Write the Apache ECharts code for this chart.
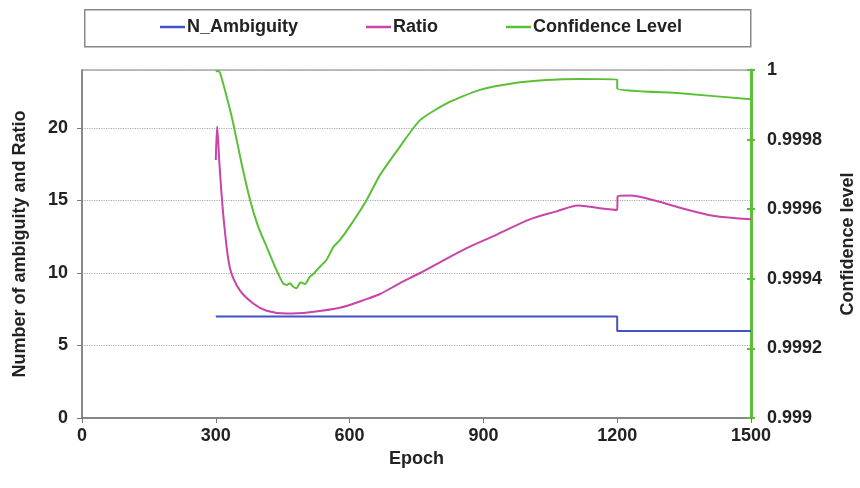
<!DOCTYPE html>
<html>
<head>
<meta charset="utf-8">
<script src="https://cdn.jsdelivr.net/npm/echarts@6/dist/echarts.min.js"></script>
<style>html,body{margin:0;padding:0;background:#fff}#c{width:860px;height:488px}</style>
</head>
<body>
<div id="c"></div>
<script>
const seriesNames = ['N_Ambiguity', 'Ratio', 'Confidence Level'];
const xTicks = [0, 300, 600, 900, 1200, 1500];

const ambEpochs = [300, 1200, 1200, 1500];
const ambValues = [7, 7, 6, 6];

const ratioEpochs = [300, 303, 308, 313, 320, 332, 354, 384, 414, 459, 511, 578, 638, 668, 713, 758, 855, 930, 1004, 1064, 1113, 1161, 1200, 1201, 1229, 1290, 1341, 1415, 1500];
const ratioValues = [17.8, 20.1, 17.6, 15.4, 13.0, 10.3, 8.8, 7.9, 7.4, 7.2, 7.3, 7.6, 8.2, 8.55, 9.3, 10.0, 11.6, 12.65, 13.7, 14.25, 14.66, 14.47, 14.35, 15.3, 15.35, 14.95, 14.5, 13.95, 13.7];

const confEpochs = [300, 305, 310, 325, 339, 358, 377, 395, 414, 436, 451, 459, 466, 473, 481, 490, 500, 511, 520, 530, 548, 564, 578, 600, 638, 668, 713, 758, 818, 892, 967, 1042, 1117, 1200, 1200, 1341, 1500];
const confValues = [0.999995, 0.999998, 0.99999, 0.99992, 0.999847, 0.99973, 0.999626, 0.99955, 0.999492, 0.999425, 0.999387, 0.999382, 0.999387, 0.999378, 0.999373, 0.99939, 0.999385, 0.999406, 0.999415, 0.99943, 0.999454, 0.999492, 0.999511, 0.99955, 0.999626, 0.999698, 0.99978, 0.999856, 0.999904, 0.999943, 0.999962, 0.999971, 0.999974, 0.999973, 0.999947, 0.999933, 0.999916];

const zip = (a, b) => a.map((x, i) => [x, b[i]]);
const FONT = "'Liberation Sans', Arial, sans-serif";
const labelStyle = { fontFamily: FONT, fontWeight: 'bold', fontSize: 18, color: '#222' };
const GREEN = '#5cbf38';

const chart = echarts.init(document.getElementById('c'), null, { renderer: 'canvas' });
chart.setOption({
  animation: false,
  backgroundColor: '#fff',
  graphic: [{
    type: 'rect', left: 84, top: 9, shape: { width: 666, height: 37 },
    style: { fill: '#fff', stroke: '#888', lineWidth: 1.5 }, z: 0
  }],
  legend: {
    left: 160, top: 18, padding: 0, itemGap: 68, itemWidth: 25, itemHeight: 2.5, icon: 'rect',
    textStyle: Object.assign({}, labelStyle, { padding: [0, 0, 0, -3] }),
    data: seriesNames, z: 5
  },
  grid: { left: 82, right: 109, top: 70, bottom: 70, containLabel: false, outerBoundsMode: 'none', show: true, borderColor: '#aaa', borderWidth: 1.5, backgroundColor: 'transparent' },
  xAxis: {
    type: 'value', min: 0, max: 1500, interval: 300,
    name: 'Epoch', nameLocation: 'middle', nameGap: 30,
    nameTextStyle: labelStyle,
    axisLine: { lineStyle: { color: '#777', width: 1.5 } },
    axisTick: { show: true, length: 5, lineStyle: { color: '#777' } },
    axisLabel: Object.assign({}, labelStyle, { margin: 9, formatter: v => String(v) }),
    splitLine: { show: false }
  },
  yAxis: [{
    type: 'value', min: 0, max: 24, interval: 5, position: 'left',
    name: 'Number of ambiguity and Ratio', nameLocation: 'middle', nameGap: 53, nameRotate: 90,
    nameTextStyle: labelStyle,
    axisLine: { show: true, lineStyle: { color: '#777', width: 1.5 } },
    axisTick: { show: true, length: 5, lineStyle: { color: '#777' } },
    axisLabel: Object.assign({}, labelStyle, { margin: 14, showMaxLabel: false }),
    splitLine: { show: true, lineStyle: { color: '#aaa', type: 'dotted', width: 1.2 } }
  }, {
    type: 'value', min: 0.999, max: 1, interval: 0.0002, position: 'right',
    name: 'Confidence level', nameLocation: 'middle', nameGap: 88, nameRotate: 90,
    nameTextStyle: labelStyle,
    axisLine: { show: true, lineStyle: { color: GREEN, width: 3 } },
    axisTick: { show: true, length: 4, lineStyle: { color: GREEN, width: 2 } },
    axisLabel: Object.assign({}, labelStyle, { margin: 16, formatter: v => String(parseFloat(v.toFixed(4))) }),
    splitLine: { show: false }
  }, {
    type: 'value', min: 0.999, max: 1, interval: 0.0002, position: 'right',
    axisLine: { show: false },
    axisTick: { show: true, inside: true, length: 4, lineStyle: { color: GREEN, width: 2 } },
    axisLabel: { show: false },
    splitLine: { show: false }
  }],
  series: [{
    name: seriesNames[0], type: 'line', yAxisIndex: 0, showSymbol: false, symbol: 'none',
    color: '#4453c4', lineStyle: { width: 2 }, data: zip(ambEpochs, ambValues)
  }, {
    name: seriesNames[1], type: 'line', yAxisIndex: 0, showSymbol: false, symbol: 'none', smooth: 0.3,
    color: '#c844a8', lineStyle: { width: 2 }, data: zip(ratioEpochs, ratioValues)
  }, {
    name: seriesNames[2], type: 'line', yAxisIndex: 1, showSymbol: false, symbol: 'none', smooth: 0.2,
    color: GREEN, lineStyle: { width: 2 }, data: zip(confEpochs, confValues)
  }]
});
</script>
</body>
</html>
